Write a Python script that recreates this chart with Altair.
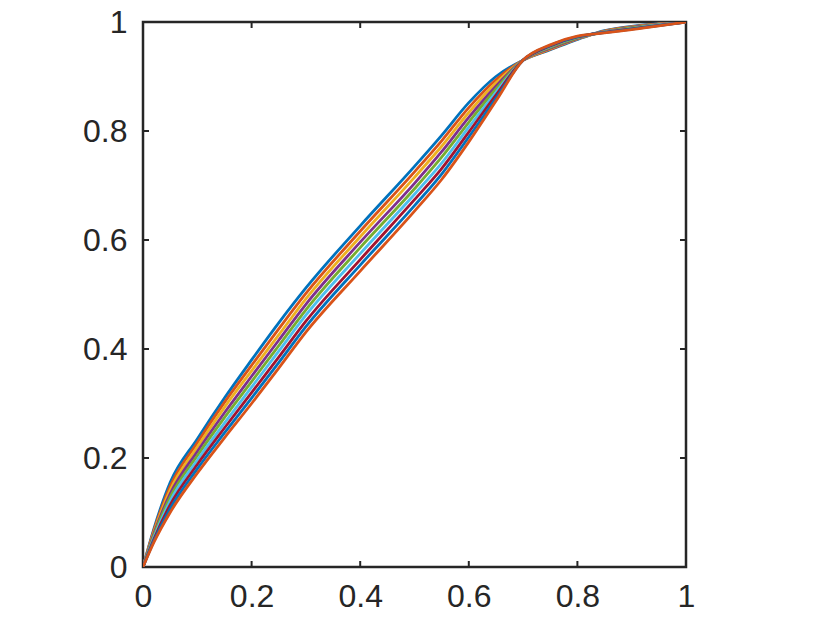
import altair as alt
import pandas as pd

x_vals = [0, 0.02, 0.05, 0.1, 0.15, 0.2, 0.25, 0.3, 0.4, 0.5, 0.55, 0.6, 0.65, 0.7, 0.75, 0.8, 0.82, 0.85, 0.9, 0.95, 1]

s1 = [0, 0.070, 0.155, 0.235, 0.310, 0.380, 0.448, 0.512, 0.626, 0.735, 0.792, 0.852, 0.900, 0.930, 0.949, 0.968, 0.975, 0.984, 0.992, 0.997, 1]
s2 = [0, 0.067, 0.148, 0.228, 0.302, 0.370, 0.437, 0.502, 0.616, 0.725, 0.782, 0.843, 0.894, 0.930, 0.950, 0.969, 0.975, 0.9835, 0.991, 0.9965, 1]
s3 = [0, 0.064, 0.141, 0.220, 0.293, 0.360, 0.426, 0.492, 0.606, 0.715, 0.772, 0.834, 0.888, 0.930, 0.951, 0.9695, 0.9755, 0.983, 0.9905, 0.996, 1]
s4 = [0, 0.061, 0.134, 0.212, 0.283, 0.350, 0.416, 0.482, 0.596, 0.704, 0.762, 0.825, 0.882, 0.930, 0.952, 0.970, 0.976, 0.9825, 0.990, 0.9955, 1]
s5 = [0, 0.058, 0.128, 0.204, 0.274, 0.340, 0.406, 0.472, 0.586, 0.694, 0.752, 0.816, 0.877, 0.930, 0.9535, 0.971, 0.976, 0.982, 0.989, 0.995, 1]
s6 = [0, 0.054, 0.121, 0.196, 0.264, 0.330, 0.396, 0.462, 0.575, 0.684, 0.741, 0.807, 0.871, 0.930, 0.955, 0.972, 0.976, 0.9815, 0.988, 0.9945, 1]
s7 = [0, 0.051, 0.114, 0.188, 0.255, 0.320, 0.385, 0.451, 0.564, 0.674, 0.731, 0.798, 0.866, 0.930, 0.956, 0.9725, 0.9765, 0.981, 0.9875, 0.994, 1]
s8 = [0, 0.048, 0.107, 0.180, 0.246, 0.310, 0.375, 0.441, 0.554, 0.663, 0.721, 0.789, 0.860, 0.930, 0.957, 0.973, 0.977, 0.9805, 0.987, 0.9935, 1]
s9 = [0, 0.045, 0.100, 0.172, 0.237, 0.300, 0.365, 0.431, 0.543, 0.653, 0.711, 0.780, 0.855, 0.930, 0.958, 0.974, 0.977, 0.980, 0.986, 0.993, 1]

series = [s1, s2, s3, s4, s5, s6, s7, s8, s9]
names = [f"s{i+1}" for i in range(len(series))]
colors = ["#0072BD", "#D95319", "#EDB120", "#7E2F8E", "#77AC30", "#4DBEEE", "#A2142F", "#0072BD", "#D95319"]

tick_vals = [0, 0.2, 0.4, 0.6, 0.8, 1]
inner_ticks = [0.2, 0.4, 0.6, 0.8]

rows = []
for n, s in zip(names, series):
    for xv, yv in zip(x_vals, s):
        rows.append({"series": n, "x": xv, "y": yv})
df = pd.DataFrame(rows)
ticks_df = pd.DataFrame({"t": inner_ticks})

W, H = 543, 545
FONT = "Liberation Sans"
TXT = "#262626"

xscale = alt.Scale(domain=[0, 1], nice=False, zero=False)
yscale = alt.Scale(domain=[0, 1], nice=False, zero=False)

lines = alt.Chart(df).mark_line(interpolate="monotone", strokeWidth=2.8, clip=True).encode(
    x=alt.X("x:Q", scale=xscale,
            axis=alt.Axis(values=tick_vals, format="~g", title=None, domain=False, ticks=False,
                          grid=False, labelFontSize=32, labelFont=FONT, labelColor=TXT,
                          labelPadding=14, labelFlush=False)),
    y=alt.Y("y:Q", scale=yscale,
            axis=alt.Axis(values=tick_vals, format="~g", title=None, domain=False, ticks=False,
                          grid=False, labelFontSize=32, labelFont=FONT, labelColor=TXT,
                          labelPadding=16, labelFlush=False)),
    color=alt.Color("series:N", scale=alt.Scale(domain=names, range=colors), legend=None),
    order=alt.Order("x:Q"),
)

tk = alt.Chart(ticks_df)
xb = tk.mark_rule(color=TXT, strokeWidth=2).encode(x=alt.X("t:Q", scale=xscale), y=alt.value(H), y2=alt.value(H - 6))
xt = tk.mark_rule(color=TXT, strokeWidth=2).encode(x=alt.X("t:Q", scale=xscale), y=alt.value(0), y2=alt.value(6))
yl = tk.mark_rule(color=TXT, strokeWidth=2).encode(y=alt.Y("t:Q", scale=yscale), x=alt.value(0), x2=alt.value(6))
yr = tk.mark_rule(color=TXT, strokeWidth=2).encode(y=alt.Y("t:Q", scale=yscale), x=alt.value(W), x2=alt.value(W - 6))

chart = alt.layer(lines, xb, xt, yl, yr).properties(
    width=W, height=H,
    autosize=alt.AutoSizeParams(type="none"),
    padding={"left": 135, "top": 14, "right": 10, "bottom": 50},
    background="white",
).configure_view(stroke=TXT, strokeWidth=2.5)

chart.save("out.html", embed_options={"renderer": "svg", "actions": False})
